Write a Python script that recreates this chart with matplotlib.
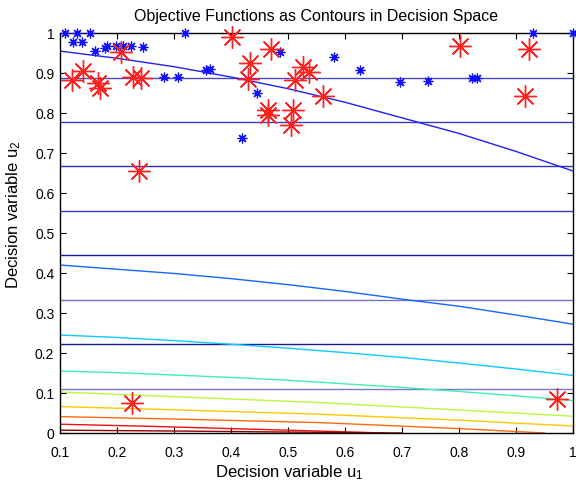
import numpy as np
import matplotlib
matplotlib.use("Agg")
import matplotlib.pyplot as plt

plt.rcParams['font.family'] = ['Liberation Sans', 'DejaVu Sans']
plt.rcParams['mathtext.default'] = 'regular'

# horizontal contours (objective 1 depends on u2 only)
h_levels = [1/9, 2/9, 3/9, 4/9, 5/9, 6/9, 7/9, 8/9]
h_colors = ['#7878c4', '#1a1a8c', '#7474c4', '#1c1c9a', '#3c3cc0', '#3030b8', '#3838c0', '#4848c8']

# curved contours of objective 2 (u1, u2)
curves = [
    ([0.1, 0.2, 0.3, 0.404, 0.5, 0.6, 0.7, 0.8, 0.9, 1.0],
     [0.955, 0.937, 0.916, 0.889, 0.861, 0.827, 0.788, 0.749, 0.704, 0.655], '#2020f0'),
    ([0.1, 0.3, 0.4, 0.5, 0.6, 0.709, 0.8, 0.9, 1.0],
     [0.42, 0.399, 0.386, 0.371, 0.354, 0.333, 0.317, 0.295, 0.272], '#1466ff'),
    ([0.1, 0.2, 0.3, 0.4, 0.5, 0.6, 0.7, 0.8, 0.9, 1.0],
     [0.245, 0.239, 0.231, 0.222, 0.212, 0.201, 0.189, 0.175, 0.160, 0.144], '#10c8ff'),
    ([0.1, 0.2, 0.3, 0.4, 0.5, 0.6, 0.7, 0.8, 0.9, 1.0],
     [0.155, 0.151, 0.145, 0.139, 0.132, 0.123, 0.114, 0.104, 0.093, 0.081], '#40f0b0'),
    ([0.1, 0.3, 0.556, 0.8, 1.0], [0.1025, 0.091, 0.076, 0.0575, 0.042], '#b8f840'),
    ([0.1, 0.3, 0.556, 0.8, 1.0], [0.066, 0.058, 0.047, 0.032, 0.0175], '#ffc800'),
    ([0.1, 0.3, 0.556, 0.8, 0.95], [0.041, 0.035, 0.026, 0.011, 0.0], '#ff6a10'),
    ([0.1, 0.25, 0.4, 0.55, 0.67], [0.022, 0.017, 0.011, 0.005, 0.0], '#f01010'),
    ([0.1, 0.3, 0.45, 0.7], [0.007, 0.005, 0.003, 0.0], '#900000'),
]

# blue points
blue_u1 = [0.109, 0.130, 0.153, 0.123, 0.138, 0.161, 0.179, 0.182, 0.198, 0.211, 0.224,
           0.245, 0.319, 0.282, 0.3075, 0.356, 0.363, 0.446, 0.420, 0.486, 0.581, 0.626,
           0.696, 0.746, 0.823, 0.832, 0.929, 1.0]
blue_u2 = [1.0, 1.0, 1.0, 0.978, 0.978, 0.956, 0.962, 0.968, 0.9675, 0.9675, 0.9675,
           0.966, 1.0, 0.889, 0.891, 0.9075, 0.909, 0.851, 0.737, 0.953, 0.941, 0.9075,
           0.878, 0.880, 0.887, 0.887, 1.0, 1.0]

# red points
red_u1 = [0.1205, 0.140, 0.167, 0.170, 0.207, 0.229, 0.243, 0.239, 0.401, 0.433, 0.429,
          0.470, 0.465, 0.465, 0.509, 0.512, 0.506, 0.526, 0.536, 0.561, 0.802, 0.922,
          0.916, 0.226, 0.9725]
red_u2 = [0.8825, 0.906, 0.874, 0.862, 0.953, 0.891, 0.887, 0.655, 0.991, 0.926, 0.884,
          0.959, 0.807, 0.795, 0.807, 0.8825, 0.770, 0.916, 0.903, 0.8425, 0.9675, 0.959,
          0.8425, 0.074, 0.084]

fig = plt.figure(figsize=(5.76, 4.83), dpi=100)
ax = fig.add_axes([0.104, 0.1035, 0.891, 0.828])

for lev, c in zip(h_levels, h_colors):
    ax.axhline(lev, color=c, linewidth=1.0, zorder=1)

for xs, ys, c in curves:
    ax.plot(xs, ys, color=c, linewidth=1.0, zorder=2)

ax.plot(blue_u1, blue_u2, linestyle='none', marker=(8, 2, 0), markersize=7,
        markeredgewidth=0.9, color='#1010ff', zorder=3, clip_on=False)
ax.plot(red_u1, red_u2, linestyle='none', marker=(8, 2, 0), markersize=16,
        markeredgewidth=1.0, color='#ff2020', zorder=4, clip_on=False)

ax.set_xlim(0.1, 1)
ax.set_ylim(0, 1)
ax.set_xticks(np.arange(1, 11) / 10)
ax.set_xticklabels(['0.1', '0.2', '0.3', '0.4', '0.5', '0.6', '0.7', '0.8', '0.9', '1'])
ax.set_yticks(np.arange(0, 11) / 10)
ax.set_yticklabels(['0', '0.1', '0.2', '0.3', '0.4', '0.5', '0.6', '0.7', '0.8', '0.9', '1'])
ax.tick_params(direction='in', top=True, right=True, labelsize=10, length=4, width=0.8)
ax.tick_params(axis='x', pad=9)
ax.tick_params(axis='y', pad=4)
for s in ax.spines.values():
    s.set_linewidth(1.0)

ax.set_title('Objective Functions as Contours in Decision Space', fontsize=11.5, pad=9)
ax.set_xlabel('Decision variable u$_1$', fontsize=12)
ax.set_ylabel('Decision variable u$_2$', fontsize=12)
ax.xaxis.set_label_coords(0.446, -0.075)
ax.yaxis.set_label_coords(-0.072, 0.545)

fig.savefig('out.png', dpi=100)
